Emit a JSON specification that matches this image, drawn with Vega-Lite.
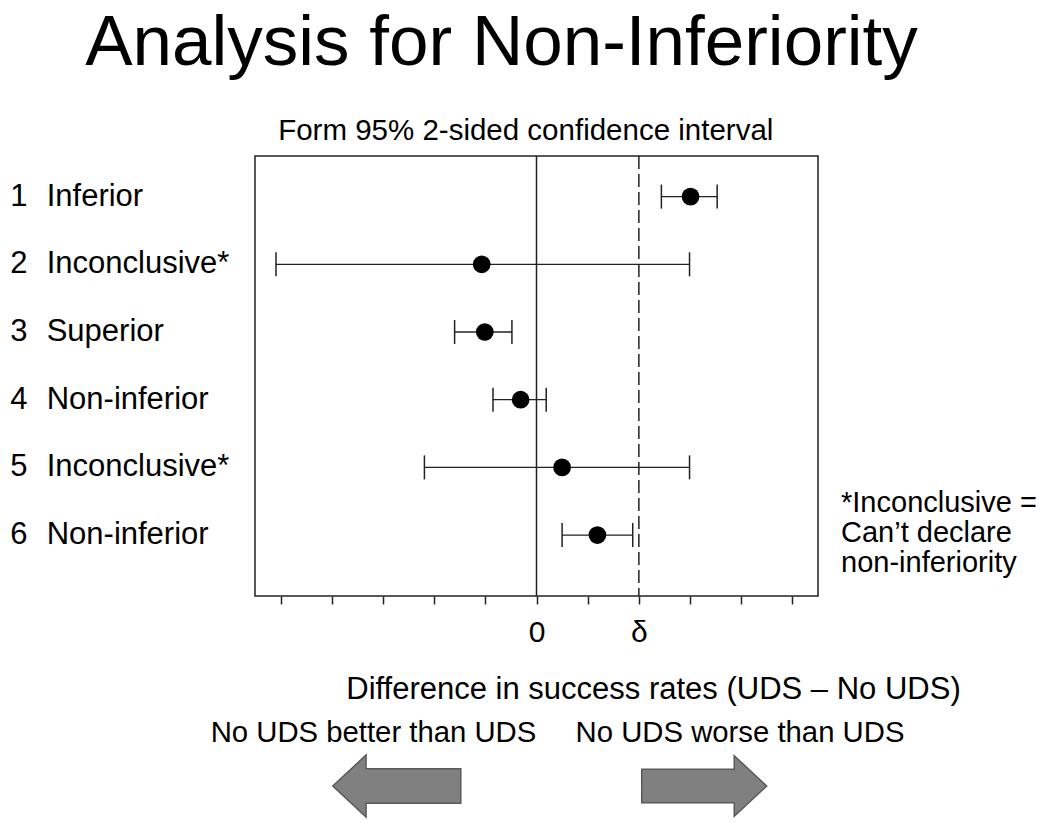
{
  "$schema": "https://vega.github.io/schema/vega-lite/v6.json",
  "width": 563,
  "height": 440,
  "autosize": {"type": "none"},
  "padding": {"left": 255, "top": 156, "right": 232, "bottom": 227},
  "background": "white",
  "title": {
    "text": "Analysis for Non-Inferiority",
    "fontSize": 71,
    "font": "Liberation Sans",
    "fontWeight": "normal",
    "color": "#000000",
    "anchor": "middle",
    "frame": "group",
    "dx": -35,
    "offset": 36
  },
  "config": {
    "view": {"stroke": "#222222", "strokeWidth": 1.5},
    "font": "Liberation Sans"
  },
  "resolve": {"axis": {"x": "independent", "y": "independent"}},
  "datasets": {
    "ci": [
      {"row": 1, "num": "1", "label": "Inferior", "lower": 2.44, "est": 3.01, "upper": 3.53},
      {"row": 2, "num": "2", "label": "Inconclusive*", "lower": -5.09, "est": -1.07, "upper": 2.99},
      {"row": 3, "num": "3", "label": "Superior", "lower": -1.6, "est": -1.01, "upper": -0.48},
      {"row": 4, "num": "4", "label": "Non-inferior", "lower": -0.85, "est": -0.31, "upper": 0.19},
      {"row": 5, "num": "5", "label": "Inconclusive*", "lower": -2.19, "est": 0.5, "upper": 2.99},
      {"row": 6, "num": "6", "label": "Non-inferior", "lower": 0.5, "est": 1.19, "upper": 1.88}
    ]
  },
  "layer": [
    {
      "data": {"values": [{}]},
      "mark": {"type": "rule", "color": "#222222", "strokeWidth": 1.5},
      "encoding": {
        "x": {"datum": 0, "type": "quantitative", "axis": null}
      }
    },
    {
      "data": {"values": [{}]},
      "mark": {"type": "rule", "color": "#222222", "strokeWidth": 1.5, "strokeDash": [13, 5]},
      "encoding": {
        "x": {"datum": 2, "type": "quantitative", "axis": null}
      }
    },
    {
      "data": {"name": "ci"},
      "mark": {"type": "rule", "color": "#222222", "strokeWidth": 1.3},
      "encoding": {
        "x": {
          "field": "lower",
          "type": "quantitative",
          "scale": {"domain": [-5.5, 5.5], "nice": false, "zero": false},
          "axis": {
            "orient": "bottom",
            "values": [-5, -4, -3, -2, -1, 0, 1, 2, 3, 4, 5],
            "domain": false,
            "grid": false,
            "ticks": true,
            "tickSize": 8,
            "tickWidth": 1.5,
            "tickColor": "#222222",
            "labelExpr": "datum.value == 0 ? '0' : (datum.value == 2 ? 'δ' : '')",
            "labelFontSize": 30,
            "labelFont": "Liberation Sans",
            "labelColor": "#000000",
            "labelBaseline": "alphabetic",
            "labelPadding": 37,
            "labelFlush": false,
            "labelOverlap": false,
            "title": "Difference in success rates (UDS – No UDS)",
            "titleFont": "Liberation Sans",
            "titleFontSize": 31,
            "titleFontWeight": "normal",
            "titleColor": "#000000",
            "titleX": 398,
            "titleY": 102,
            "titleAlign": "center",
            "titleBaseline": "alphabetic"
          }
        },
        "x2": {"field": "upper"},
        "y": {
          "field": "row",
          "type": "quantitative",
          "scale": {"domain": [0.4, 6.9], "reverse": true, "nice": false, "zero": false},
          "axis": null
        }
      }
    },
    {
      "data": {"name": "ci"},
      "mark": {"type": "tick", "orient": "vertical", "size": 24, "thickness": 1.5, "color": "#222222", "opacity": 1},
      "encoding": {
        "x": {"field": "lower", "type": "quantitative", "axis": null},
        "y": {"field": "row", "type": "quantitative", "axis": null}
      }
    },
    {
      "data": {"name": "ci"},
      "mark": {"type": "tick", "orient": "vertical", "size": 24, "thickness": 1.5, "color": "#222222", "opacity": 1},
      "encoding": {
        "x": {"field": "upper", "type": "quantitative", "axis": null},
        "y": {"field": "row", "type": "quantitative", "axis": null}
      }
    },
    {
      "data": {"name": "ci"},
      "mark": {"type": "point", "shape": "circle", "filled": true, "size": 314, "color": "#000000", "opacity": 1},
      "encoding": {
        "x": {"field": "est", "type": "quantitative", "axis": null},
        "y": {"field": "row", "type": "quantitative", "axis": null}
      }
    },
    {
      "data": {"name": "ci"},
      "mark": {"type": "text", "align": "left", "baseline": "middle", "fontSize": 31, "color": "#000000"},
      "encoding": {
        "x": {"datum": -10.28, "type": "quantitative", "axis": null},
        "y": {"field": "row", "type": "quantitative", "axis": null},
        "text": {"field": "num"}
      }
    },
    {
      "data": {"name": "ci"},
      "mark": {"type": "text", "align": "left", "baseline": "middle", "fontSize": 31, "color": "#000000"},
      "encoding": {
        "x": {"datum": -9.57, "type": "quantitative", "axis": null},
        "y": {"field": "row", "type": "quantitative", "axis": null},
        "text": {"field": "label"}
      }
    },
    {
      "data": {"values": [{}]},
      "mark": {"type": "text", "text": "Form 95% 2-sided confidence interval", "align": "center", "baseline": "alphabetic", "fontSize": 29.5, "color": "#000000"},
      "encoding": {
        "x": {"datum": -0.21, "type": "quantitative", "axis": null},
        "y": {"datum": 0.164, "type": "quantitative", "axis": null}
      }
    },
    {
      "data": {"values": [{}]},
      "mark": {"type": "text", "text": ["*Inconclusive =", "Can’t declare", "non-inferiority"], "align": "left", "baseline": "alphabetic", "fontSize": 29, "lineHeight": 30, "color": "#000000"},
      "encoding": {
        "x": {"datum": 5.95, "type": "quantitative", "axis": null},
        "y": {"datum": 5.655, "type": "quantitative", "axis": null}
      }
    },
    {
      "data": {"values": [{}]},
      "mark": {"type": "text", "text": "No UDS better than UDS", "align": "center", "baseline": "alphabetic", "fontSize": 29.3, "color": "#000000"},
      "encoding": {
        "x": {"datum": -3.185, "type": "quantitative", "axis": null},
        "y": {"datum": 9.053, "type": "quantitative", "axis": null}
      }
    },
    {
      "data": {"values": [{}]},
      "mark": {"type": "text", "text": "No UDS worse than UDS", "align": "center", "baseline": "alphabetic", "fontSize": 29.3, "color": "#000000"},
      "encoding": {
        "x": {"datum": 3.976, "type": "quantitative", "axis": null},
        "y": {"datum": 9.053, "type": "quantitative", "axis": null}
      }
    },
    {
      "data": {"values": [{}]},
      "mark": {"type": "point", "shape": "M -1 0 L -0.48 -0.484 L -0.48 -0.268 L 1 -0.268 L 1 0.268 L -0.48 0.268 L -0.48 0.484 Z", "size": 16384, "filled": true, "fill": "#808080", "stroke": "#5a5a5a", "strokeWidth": 1.5, "opacity": 1},
      "encoding": {
        "x": {"datum": -2.73, "type": "quantitative", "axis": null},
        "y": {"datum": 9.707, "type": "quantitative", "axis": null}
      }
    },
    {
      "data": {"values": [{}]},
      "mark": {"type": "point", "shape": "M 1 0 L 0.48 -0.484 L 0.48 -0.268 L -1 -0.268 L -1 0.268 L 0.48 0.268 L 0.48 0.484 Z", "size": 15625, "filled": true, "fill": "#808080", "stroke": "#5a5a5a", "strokeWidth": 1.5, "opacity": 1},
      "encoding": {
        "x": {"datum": 3.277, "type": "quantitative", "axis": null},
        "y": {"datum": 9.707, "type": "quantitative", "axis": null}
      }
    }
  ]
}
